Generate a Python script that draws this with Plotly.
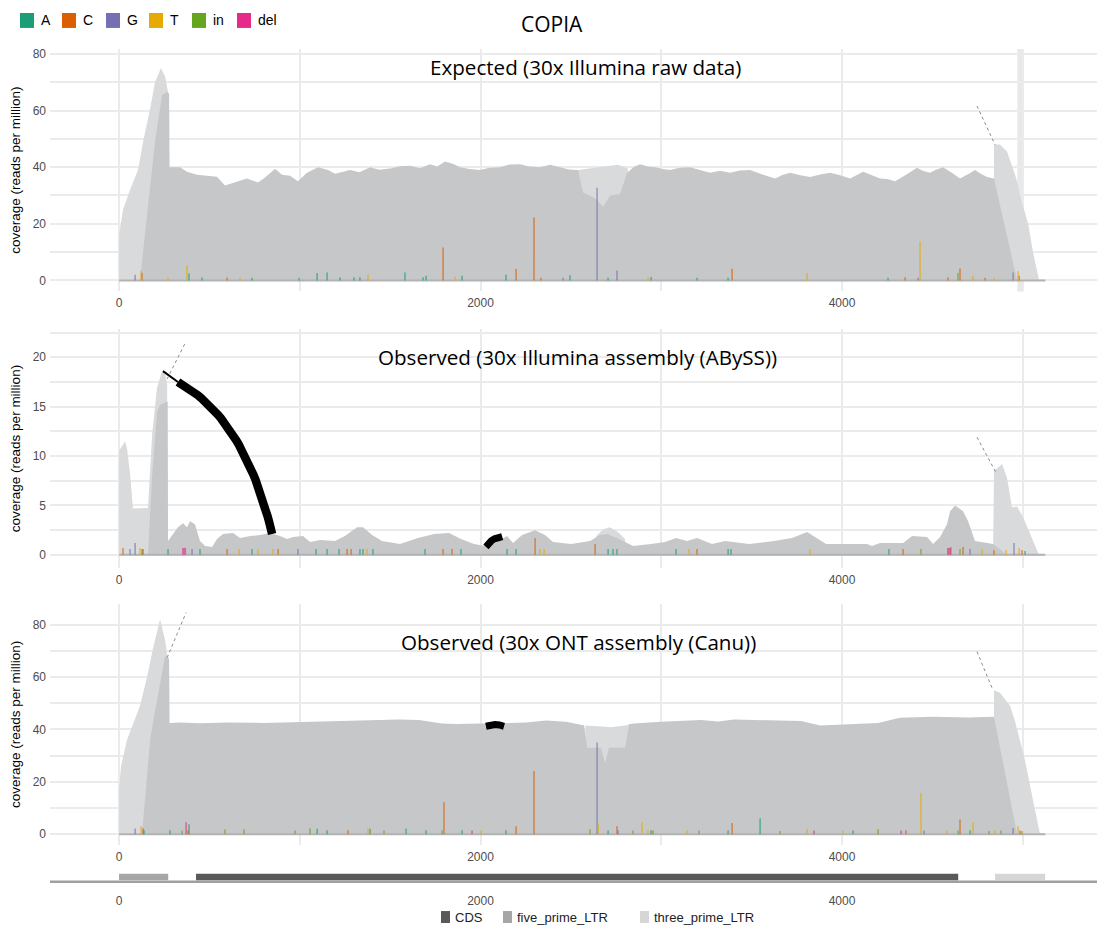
import numpy as np
import plotly.graph_objects as go

W, H = 1103, 929

# ---------------- data ----------------
X_RANGE = [-382, 5411]
X_TICKS = [0, 2000, 4000]

PANEL_TITLES = ["Expected (30x Illumina raw data)",
                "Observed (30x Illumina assembly (ABySS))",
                "Observed (30x ONT assembly (Canu))"]
MAIN_TITLE = "COPIA"
Y_TITLE = "coverage (reads per million)"

BASES = ["A", "C", "G", "T", "in", "del"]
BASE_COLORS = ["#1b9e77", "#d95f02", "#7570b3", "#e6ab02", "#66a61e", "#e7298a"]

# ---- panel 1 : expected ----
P1_BODY_POS = [116, 160, 199, 238, 266, 277, 279, 338, 376, 432, 487, 542, 586, 653, 708, 769, 808, 863,
               902, 946, 990, 1040, 1101, 1156, 1195, 1240, 1278, 1330, 1389, 1440, 1499, 1555, 1610, 1665,
               1721, 1760, 1804, 1850, 1887, 1940, 1997, 2050, 2108, 2160, 2219, 2270, 2329, 2385, 2440,
               2490, 2540, 2567, 2634, 2678, 2717, 2772, 2811, 2850, 2883, 2925, 2966, 3010, 3049, 3100,
               3159, 3215, 3270, 3325, 3381, 3435, 3491, 3560, 3630, 3670, 3713, 3770, 3823, 3880, 3934,
               3990, 4045, 4117, 4160, 4211, 4250, 4294, 4350, 4415, 4450, 4487, 4520, 4559, 4610, 4653,
               4700, 4736, 4770, 4803, 4841, 4969]
P1_BODY_COV = [0, 25, 49, 65.5, 66.5, 66, 40, 40, 38.4, 37.3, 37, 36.6, 33.5, 35, 36, 34.6, 36.3, 39.4,
               37.3, 37, 35, 38, 40, 39, 37.7, 38.4, 39, 38.2, 40, 39.1, 39.5, 40.3, 40.5, 39.6,
               41, 40.2, 42, 41.1, 40, 39.3, 39, 39.8, 40, 40.9, 41, 40.2, 40, 40.8, 40,
               39.2, 39, 31, 29, 26, 30, 30.5, 38, 40.1, 41, 40.2, 40, 39.3, 39, 39.8,
               40, 38.9, 38, 38.7, 38, 38.8, 39, 37.4, 36, 37.2, 38, 37.1, 36.5, 37.4, 38,
               37.1, 36, 38.4, 37.2, 36, 35.8, 35, 37.1, 39.8, 38.6, 38, 39.1, 40, 37.9, 36,
               37.6, 39, 37.6, 36.5, 36, 0]
P1_LTR5_POS = [0, 0, 22, 61, 105, 133, 172, 199, 232, 255, 271, 277, 280]
P1_LTR5_COV = [0, 16, 25, 32, 39, 49, 60.6, 70, 75, 72, 66.5, 60, 0]
P1_MID_POS = [2540, 2540, 2600, 2680, 2760, 2815, 2815]
P1_MID_COV = [0, 39, 39.5, 40.2, 40.8, 39.5, 0]
P1_LTR3_POS = [4841, 4841, 4874, 4913, 4946, 4969, 4985, 5030, 5057, 5091]
P1_LTR3_COV = [0, 48, 48, 45.5, 39.5, 35, 30, 20, 10, 0]
P1_MUT_POS = [89, 122, 127, 271, 376, 387, 459, 598, 669, 736, 996, 1096, 1151, 1223, 1300, 1333, 1378,
              1582, 1682, 1699, 1793, 1859, 1898, 2141, 2197, 2296, 2335, 2457, 2495, 2645, 2706, 2755,
              2927, 2944, 3198, 3370, 3392, 3807, 4255, 4349, 4421, 4432, 4587, 4642, 4653, 4725, 4792,
              4841, 4947, 4974, 4980]
P1_MUT_VAL = [2.0, 3.5, 2.6, 1.0, 5.3, 2.4, 1.0, 1.0, 1.0, 0.9, 0.9, 2.6, 2.8, 1.1, 1.1, 1.1, 2.0,
              2.8, 1.1, 1.6, 11.6, 1.3, 1.6, 2.0, 4.0, 22.2, 0.9, 0.9, 1.8, 32.7, 0.9, 3.5,
              1.1, 1.2, 0.9, 0.9, 4.1, 2.6, 0.9, 1.1, 0.9, 13.7, 1.1, 2.6, 4.2, 1.6, 0.9,
              0.9, 2.8, 3.3, 1.6]
P1_MUT_BASE = ["G", "T", "C", "T", "T", "A", "A", "C", "T", "A", "A", "A", "A", "A", "A", "A", "T",
               "A", "A", "A", "C", "T", "A", "A", "C", "C", "C", "G", "A", "G", "A", "G",
               "T", "A", "A", "A", "C", "T", "A", "C", "G", "T", "C", "in", "C", "T", "C",
               "T", "G", "T", "C"]
P1_LINK_POS = [4747, 4847]
P1_LINK_COV = [61.6, 47.9]

# ---- panel 2 : ABySS ----
P2_BODY_POS = [160, 183, 210, 227, 266, 269, 271, 299, 326, 354, 376, 393, 420, 448, 476, 515, 542, 575,
               631, 670, 725, 780, 836, 891, 930, 963, 1018, 1057, 1112, 1195, 1250, 1317, 1350, 1400,
               1455, 1555, 1654, 1743, 1826, 1892, 1964, 2025, 2080, 2147, 2180, 2230, 2302, 2357, 2401,
               2501, 2606, 2661, 2700, 2755, 2844, 2944, 3021, 3082, 3143, 3198, 3281, 3353, 3486, 3624,
               3724, 3807, 3912, 4028, 4139, 4166, 4211, 4338, 4388, 4471, 4504, 4543, 4581, 4598, 4626,
               4670, 4698, 4736, 4775, 4836, 4913]
P2_BODY_COV = [0, 8, 14.5, 15.2, 15.5, 15.5, 1.4, 2.1, 2.8, 3.2, 2.8, 3.4, 3.1, 1.4, 0.9, 0.8, 1.6, 2.1,
               2.2, 1.7, 1.9, 2.0, 2.2, 1.9, 1.6, 1.8, 1.9, 1.3, 1.5, 1.4, 1.9, 2.8, 2.8, 2.0,
               1.4, 1.1, 1.7, 2.1, 2.2, 1.6, 1.1, 0.9, 1.2, 1.9, 1.2, 2.0, 2.5, 2.0, 1.3,
               1.1, 1.4, 2.0, 2.1, 1.7, 0.9, 1.1, 1.3, 1.7, 1.4, 1.7, 1.1, 1.4, 1.1, 1.4,
               1.7, 2.3, 1.1, 1.1, 1.1, 0.9, 1.2, 1.2, 1.9, 1.8, 1.1, 1.8, 3.1, 4.4, 5.0,
               4.4, 3.4, 1.4, 1.3, 1.1, 0]
P2_LTR5_POS = [0, 0, 33, 44, 61, 77, 160, 183, 210, 238, 255, 266, 271]
P2_LTR5_COV = [0, 10.5, 11.5, 10.8, 8.2, 4.7, 4.75, 12.2, 16.9, 18.6, 18.3, 17.3, 0]
P2_MID_POS = [2640, 2640, 2680, 2715, 2760, 2800, 2800]
P2_MID_COV = [0, 1.9, 2.6, 2.8, 2.3, 1.6, 0]
P2_LTR3_POS = [4836, 4841, 4886, 4913, 4941, 4969, 5002, 5052, 5085, 5090]
P2_LTR3_COV = [0, 8.5, 9.2, 7.8, 4.8, 4.9, 3.8, 1.7, 0.2, 0]
P2_MUT_POS = [22, 61, 89, 116, 127, 133, 271, 360, 404, 448, 598, 664, 736, 769, 852, 880, 990, 1090,
              1151, 1217, 1262, 1284, 1333, 1350, 1372, 1405, 1693, 1793, 1842, 1892, 2147, 2197, 2302,
              2329, 2352, 2634, 2706, 2733, 2755, 3082, 3154, 3198, 3370, 3386, 3823, 4260, 4338, 4437,
              4592, 4603, 4653, 4670, 4709, 4775, 4841, 4908, 4952, 4980, 4996, 5013]
P2_MUT_VAL = [0.7, 0.6, 1.2, 0.7, 0.6, 0.6, 0.6, 0.7, 0.6, 0.6, 0.6, 0.6, 0.6, 0.6, 0.6, 0.6, 0.6, 0.6,
              0.6, 0.6, 0.6, 0.6, 0.6, 0.6, 0.6, 0.6, 0.6, 0.6, 0.6, 0.6, 0.6, 0.6, 1.7,
              0.6, 0.6, 1.1, 0.6, 0.6, 0.6, 0.6, 0.6, 0.6, 0.6, 0.6, 0.6, 0.6, 0.6, 0.6,
              0.7, 0.8, 0.6, 0.8, 0.6, 0.6, 0.5, 0.5, 1.2, 0.7, 0.5, 0.4]
P2_MUT_BASE = ["C", "G", "G", "T", "C", "A", "A", "del", "G", "A", "C", "T", "A", "T", "T", "C", "G", "A",
               "A", "A", "C", "C", "A", "A", "T", "A", "A", "C", "C", "A", "A", "A", "C",
               "T", "T", "C", "A", "A", "A", "A", "T", "C", "A", "A", "T", "A", "C", "in",
               "del", "in", "in", "C", "G", "T", "C", "T", "G", "T", "C", "A"]
# split-read link (start, control, end) drawn as a curve
P2_ARC_THIN_POS = [243, 326]
P2_ARC_THIN_COV = [18.6, 17.5]
P2_ARC_START = (326, 17.5)
P2_ARC_CTRL = (697, 13.8)
P2_ARC_END = (847, 2.1)
P2_SMALL_ARC_POS = [2030, 2045, 2060, 2078, 2098, 2120]
P2_SMALL_ARC_COV = [0.8, 1.15, 1.42, 1.62, 1.77, 1.85]
P2_LINK5_POS = [266, 365]
P2_LINK5_COV = [17.8, 21.4]
P2_LINK3_POS = [4747, 4853]
P2_LINK3_COV = [11.9, 8.3]

# ---- panel 3 : Canu ----
P3_BODY_POS = [127, 172, 199, 232, 255, 271, 277, 279, 340, 450, 600, 800, 1000, 1200, 1400, 1548, 1660,
               1787, 1865, 1992, 2158, 2252, 2363, 2473, 2573, 2590, 2667, 2689, 2711, 2800, 2822, 2849,
               2999, 3220, 3314, 3403, 3591, 3773, 3880, 4000, 4200, 4320, 4500, 4700, 4841, 4969]
P3_BODY_COV = [0, 36, 47, 59, 68, 67.4, 67, 42.5, 42.6, 42.4, 42.6, 42.5, 42.8, 43.2, 43.6, 43.8, 43.6,
               42.3, 42.1, 42.3, 42.7, 42.6, 43.4, 42.9, 41.5, 33, 33, 27, 33, 33, 42, 42.3,
               42.9, 43.6, 43, 43.8, 43.5, 43.2, 41.5, 41.8, 42.5, 44.5, 44.8, 44.6, 44.8, 0]
P3_LTR5_POS = [0, 0, 11, 44, 77, 116, 155, 188, 227, 255, 271, 277, 280]
P3_LTR5_COV = [0, 17, 26, 36, 42, 49, 60, 71, 82, 74, 66, 60, 0]
P3_MID_POS = [2580, 2580, 2650, 2720, 2800, 2825, 2825]
P3_MID_COV = [0, 41.5, 41.2, 40.8, 41.5, 42, 0]
P3_LTR3_POS = [4841, 4841, 4874, 4930, 4958, 5013, 5057, 5096]
P3_LTR3_COV = [0, 55, 54, 49, 43, 28, 13, 0]
P3_MUT_POS = [89, 122, 133, 138, 282, 349, 371, 382, 387, 586, 692, 974, 1057, 1096, 1151, 1267, 1378,
              1389, 1466, 1588, 1699, 1787, 1798, 1898, 1953, 2003, 2141, 2197, 2296, 2606, 2645, 2651,
              2706, 2755, 2761, 2844, 2894, 2927, 2944, 2955, 3143, 3209, 3370, 3392, 3547, 3657, 3807,
              3845, 4006, 4061, 4200, 4327, 4354, 4437, 4454, 4581, 4642, 4653, 4709, 4725, 4814, 4847,
              4880, 4947, 4974, 4985, 4996]
P3_MUT_VAL = [2.2, 3.0, 2.3, 1.5, 1.5, 1.4, 4.6, 1.5, 3.8, 1.9, 1.9, 1.4, 2.3, 2.1, 1.5, 1.5, 2.1,
              2.1, 1.4, 2.2, 1.5, 1.5, 12.2, 1.5, 1.4, 1.5, 1.5, 3.0, 24.1, 1.9, 35.0, 3.8,
              1.4, 3.0, 1.5, 1.4, 4.6, 1.5, 1.5, 1.4, 1.5, 1.4, 1.5, 4.3, 6.1, 1.2, 2.1,
              1.4, 1.4, 1.4, 1.9, 1.4, 1.5, 15.6, 1.4, 1.4, 1.4, 5.6, 1.5, 4.6, 1.2, 1.5,
              1.4, 2.4, 3.0, 1.4, 1.2]
P3_MUT_BASE = ["G", "T", "C", "A", "A", "in", "del", "C", "A", "in", "in", "in", "in", "A", "A", "C", "T",
               "A", "in", "A", "A", "in", "C", "A", "del", "T", "A", "C", "C", "in", "G", "T",
               "A", "C", "G", "in", "T", "T", "A", "in", "T", "in", "A", "C", "A", "in", "T",
               "del", "T", "A", "in", "del", "C", "T", "G", "T", "in", "C", "A", "T", "in", "T",
               "in", "G", "T", "C", "in"]
P3_SMALL_ARC_POS = [2030, 2055, 2080, 2105, 2130]
P3_SMALL_ARC_COV = [41.2, 41.7, 41.9, 41.7, 41.2]
P3_LINK5_POS = [266, 371]
P3_LINK5_COV = [67.4, 84.6]
P3_LINK3_POS = [4747, 4836]
P3_LINK3_COV = [69.7, 54.9]

# ---- gene annotation track ----
FEATURE_NAMES = ["five_prime_LTR", "CDS", "three_prime_LTR"]
FEATURE_START = [0, 426, 4847]
FEATURE_END = [272, 4643, 5124]
LEGEND2_ORDER = ["CDS", "five_prime_LTR", "three_prime_LTR"]
ELEMENT_END = 5125

# ---------------- style ----------------
DARK = "#c6c7c9"
LIGHT = "#d9dadc"
GRID = "#ebebeb"
SANS = "Liberation Sans, Arial, sans-serif"
TICK_FONT = dict(family=SANS, size=12, color="#4d4d4d")
FEATURE_COLORS = {"CDS": "#595959", "five_prime_LTR": "#a6a6a6", "three_prime_LTR": "#d6d6d6"}

X_DOMAIN = [50 / W, 1097 / W]
PANEL_PX = [(47, 290), (328, 567), (603, 845)]
Y_RANGES = [[-3.88, 81.76], [-1.31, 22.83], [-4.19, 88.0]]
Y_DTICK = [20, 5, 20]
GENE_PX = (866, 890)


def ydom(top, bot):
    return [1 - bot / H, 1 - top / H]


fig = go.Figure()

panels = [
    dict(body=(P1_BODY_POS, P1_BODY_COV), light=[(P1_LTR5_POS, P1_LTR5_COV), (P1_MID_POS, P1_MID_COV),
                                                  (P1_LTR3_POS, P1_LTR3_COV)],
         mut=(P1_MUT_POS, P1_MUT_VAL, P1_MUT_BASE)),
    dict(body=(P2_BODY_POS, P2_BODY_COV), light=[(P2_LTR5_POS, P2_LTR5_COV), (P2_MID_POS, P2_MID_COV),
                                                  (P2_LTR3_POS, P2_LTR3_COV)],
         mut=(P2_MUT_POS, P2_MUT_VAL, P2_MUT_BASE)),
    dict(body=(P3_BODY_POS, P3_BODY_COV), light=[(P3_LTR5_POS, P3_LTR5_COV), (P3_MID_POS, P3_MID_COV),
                                                  (P3_LTR3_POS, P3_LTR3_COV)],
         mut=(P3_MUT_POS, P3_MUT_VAL, P3_MUT_BASE)),
]

for i, p in enumerate(panels):
    xa = "x" if i == 0 else f"x{i + 1}"
    ya = "y" if i == 0 else f"y{i + 1}"
    for lx, ly in p["light"]:
        fig.add_trace(go.Scatter(x=lx, y=ly, mode="lines", fill="tozeroy", fillcolor=LIGHT,
                                 line=dict(width=0, color=LIGHT), xaxis=xa, yaxis=ya,
                                 showlegend=False, hoverinfo="skip"))
    bx, by = p["body"]
    fig.add_trace(go.Scatter(x=bx, y=by, mode="lines", fill="tozeroy", fillcolor=DARK,
                             line=dict(width=0, color=DARK), xaxis=xa, yaxis=ya,
                             showlegend=False, hoverinfo="skip"))
    fig.add_trace(go.Scatter(x=[0, ELEMENT_END], y=[0, 0], mode="lines",
                             line=dict(width=2, color="#b2b2b2"), xaxis=xa, yaxis=ya,
                             showlegend=False, hoverinfo="skip"))
    # mutation bars as vertical segments (drawn above the coverage areas)
    mpos, mval, mbase = p["mut"]
    for b, c in zip(BASES, BASE_COLORS):
        xs, ys = [], []
        for x, v, bb in zip(mpos, mval, mbase):
            if bb == b:
                xs += [x, x, None]
                ys += [0, v, None]
        if not xs:
            continue
        w = 4 if (i == 1 and b == "del") else 1.6
        fig.add_trace(go.Scatter(x=xs, y=ys, mode="lines", line=dict(color=c, width=w),
                                 opacity=0.62, xaxis=xa, yaxis=ya, name=b, showlegend=False,
                                 hoverinfo="skip"))


def line(x, y, xa, ya, color, width, dash="solid"):
    fig.add_trace(go.Scatter(x=x, y=y, mode="lines", line=dict(color=color, width=width, dash=dash),
                             xaxis=xa, yaxis=ya, showlegend=False, hoverinfo="skip"))


# quadratic curve for the long split-read link in panel 2
t = np.linspace(0, 1, 40)
arc_x = ((1 - t) ** 2) * P2_ARC_START[0] + 2 * (1 - t) * t * P2_ARC_CTRL[0] + (t ** 2) * P2_ARC_END[0]
arc_y = ((1 - t) ** 2) * P2_ARC_START[1] + 2 * (1 - t) * t * P2_ARC_CTRL[1] + (t ** 2) * P2_ARC_END[1]

line(P1_LINK_POS, P1_LINK_COV, "x", "y", "#8a8a8a", 1, "dot")
line(P2_ARC_THIN_POS, P2_ARC_THIN_COV, "x2", "y2", "black", 2)
line(arc_x, arc_y, "x2", "y2", "black", 8.5)
line(P2_SMALL_ARC_POS, P2_SMALL_ARC_COV, "x2", "y2", "black", 7)
line(P2_LINK5_POS, P2_LINK5_COV, "x2", "y2", "#8a8a8a", 1, "dot")
line(P2_LINK3_POS, P2_LINK3_COV, "x2", "y2", "#8a8a8a", 1, "dot")
line(P3_SMALL_ARC_POS, P3_SMALL_ARC_COV, "x3", "y3", "black", 7)
line(P3_LINK5_POS, P3_LINK5_COV, "x3", "y3", "#8a8a8a", 1, "dot")
line(P3_LINK3_POS, P3_LINK3_COV, "x3", "y3", "#8a8a8a", 1, "dot")

# gene track
for name, s, e in zip(FEATURE_NAMES, FEATURE_START, FEATURE_END):
    fig.add_trace(go.Bar(x=[e - s], base=[s], y=[0.55], orientation="h", width=0.27,
                         marker=dict(color=FEATURE_COLORS[name], line=dict(width=0)),
                         xaxis="x4", yaxis="y4", name=name, showlegend=False))

layout = dict(
    width=W, height=H, margin=dict(l=0, r=0, t=0, b=0),
    paper_bgcolor="white", plot_bgcolor="white", barmode="overlay",
    showlegend=False,
)

for i in range(3):
    sx = "" if i == 0 else str(i + 1)
    layout[f"xaxis{sx}"] = dict(domain=X_DOMAIN, anchor=f"y{sx}", range=X_RANGE, tickvals=X_TICKS,
                                showgrid=True, gridcolor=GRID, gridwidth=1.5, zeroline=False, showline=False,
                                ticks="", tickfont=TICK_FONT, ticklabelstandoff=3,
                                minor=dict(dtick=1000, tick0=0, showgrid=True, gridcolor=GRID, gridwidth=1.5))
    layout[f"yaxis{sx}"] = dict(domain=ydom(*PANEL_PX[i]), anchor=f"x{sx}", range=Y_RANGES[i],
                                dtick=Y_DTICK[i], tick0=0, showgrid=True, gridcolor=GRID, gridwidth=1.5,
                                zeroline=False, showline=False, ticks="", tickfont=TICK_FONT,
                                ticklabelstandoff=3,
                                minor=dict(dtick=Y_DTICK[i] / 2, tick0=0, showgrid=True, gridcolor=GRID,
                                           gridwidth=1.5),
                                title=dict(text=Y_TITLE, standoff=8,
                                           font=dict(family=SANS, size=13.5, color="black")))

layout["xaxis4"] = dict(domain=X_DOMAIN, anchor="y4", range=X_RANGE, tickvals=X_TICKS, showgrid=False,
                        zeroline=False, showline=False, ticks="", tickfont=TICK_FONT, ticklabelstandoff=2)
layout["yaxis4"] = dict(domain=ydom(*GENE_PX), anchor="x4", range=[0, 1], visible=False)

fig.update_layout(**layout)

# gene track baseline across the panel
fig.add_shape(type="line", xref="x4 domain", yref="y4", x0=0, x1=1, y0=0.35, y1=0.35,
              line=dict(color="#a0a0a0", width=2.5), layer="below")
# thick band at 5000 in panel 1 (covers the 5000 grid line)
fig.add_shape(type="rect", xref="x", yref="y domain", x0=4970, x1=5006, y0=0, y1=1,
              fillcolor="#e8e8e8", line=dict(width=0), layer="below")

# titles
fig.add_annotation(text=MAIN_TITLE, xref="paper", yref="paper", x=552 / W, y=1 - 22 / H,
                   xanchor="center", yanchor="middle", showarrow=False,
                   font=dict(family="Open Sans, sans-serif", size=21, color="black"))
for txt, (cx, cy) in zip(PANEL_TITLES, [(585, 65), (577, 356), (578, 641)]):
    fig.add_annotation(text=txt, xref="paper", yref="paper", x=cx / W, y=1 - cy / H, showarrow=False,
                       xanchor="center", yanchor="middle",
                       font=dict(family="Open Sans, sans-serif", size=20.6, color="black"))

# top legend (mutation types)
LEG1_BOX_X = [20, 62, 106, 149, 192, 237]
for b, c, bx in zip(BASES, BASE_COLORS, LEG1_BOX_X):
    fig.add_shape(type="rect", xref="paper", yref="paper", x0=bx / W, x1=(bx + 14) / W,
                  y0=1 - 26 / H, y1=1 - 11 / H, fillcolor=c, line=dict(width=0))
    fig.add_annotation(text=b, xref="paper", yref="paper", x=(bx + 19) / W, y=1 - 18.5 / H,
                       xanchor="left", yanchor="middle", showarrow=False,
                       font=dict(family=SANS, size=14, color="black"))

# bottom legend (features)
LEG2_BOX_X = [441, 503, 640]
for name, bx in zip(LEGEND2_ORDER, LEG2_BOX_X):
    fig.add_shape(type="rect", xref="paper", yref="paper", x0=bx / W, x1=(bx + 9) / W,
                  y0=1 - 923 / H, y1=1 - 911 / H, fillcolor=FEATURE_COLORS[name], line=dict(width=0))
    fig.add_annotation(text=name, xref="paper", yref="paper", x=(bx + 12) / W, y=1 - 917 / H,
                       xanchor="left", yanchor="middle", showarrow=False,
                       font=dict(family=SANS, size=13, color="#222"))

fig.write_html("out.html")
